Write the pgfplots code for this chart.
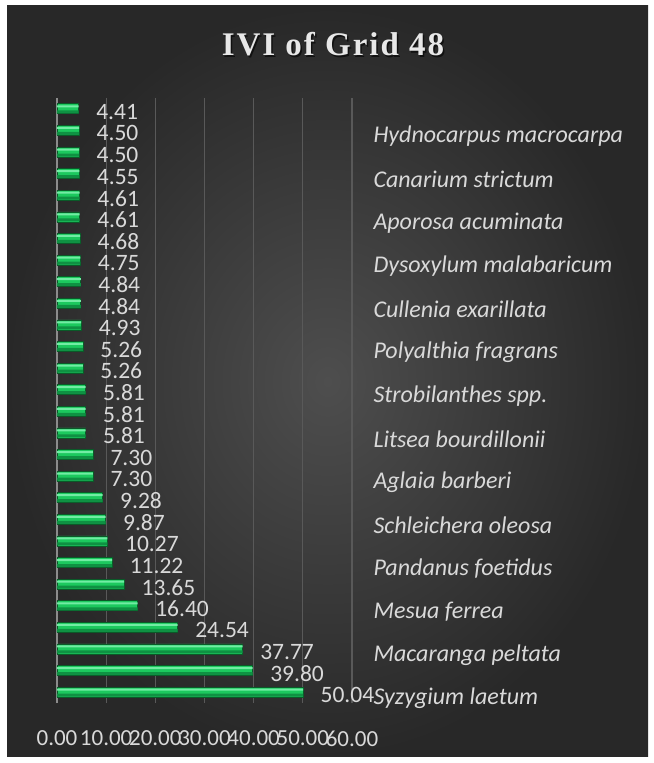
\documentclass[border=0pt]{standalone}
\usepackage{fontspec}
\setmainfont{Carlito}
\newfontfamily\titlefont[LetterSpace=6]{Liberation Serif}
\usepackage{pgfplots}
\pgfplotsset{compat=1.18}
\definecolor{bgin}{HTML}{4E4E4E}
\definecolor{bgout}{HTML}{282828}
\definecolor{txtgray}{HTML}{D9D9D9}
\definecolor{gridgray}{HTML}{595959}
\definecolor{axisgray}{HTML}{8C8C8C}
\definecolor{barHi}{HTML}{72ECA4}
\definecolor{barMid}{HTML}{1CC95E}
\definecolor{barLow}{HTML}{0F9143}
\definecolor{barEdge}{HTML}{0A5A28}

\pgfplotstableread{
pos ivi
1 50.04
2 39.80
3 37.77
4 24.54
5 16.40
6 13.65
7 11.22
8 10.27
9 9.87
10 9.28
11 7.30
12 7.30
13 5.81
14 5.81
15 5.81
16 5.26
17 5.26
18 4.93
19 4.84
20 4.84
21 4.75
22 4.68
23 4.61
24 4.61
25 4.55
26 4.50
27 4.50
28 4.41
}\ivitable

\begin{document}
\begin{tikzpicture}
\path[use as bounding box] (0bp,0bp) rectangle (654bp,763bp);
\fill[white] (0bp,0bp) rectangle (654bp,763bp);
\shade[inner color=bgin, outer color=bgout] (7bp,6bp) rectangle (648bp,757bp);
% title with a soft shadow
\node[anchor=base, text=black, opacity=0.6,
  font=\titlefont\bfseries\fontsize{33bp}{36bp}\selectfont] at (334.5bp,705.5bp) {IVI of Grid 48};
\node[anchor=base, text=txtgray!60!white,
  font=\titlefont\bfseries\fontsize{33bp}{36bp}\selectfont] at (333bp,707bp) {IVI of Grid 48};

\begin{axis}[
  at={(57bp,60bp)}, anchor=south west,
  scale only axis, width=295bp, height=605bp,
  xmin=0, xmax=60, ymin=0.5, ymax=28.5,
  xtick={0,10,...,60},
  ytick={1,3,...,27},
  yticklabels={Syzygium laetum, Macaranga peltata, Mesua ferrea, Pandanus foetidus,
    Schleichera oleosa, Aglaia barberi, Litsea bourdillonii, Strobilanthes spp.,
    Polyalthia fragrans, Cullenia exarillata, Dysoxylum malabaricum,
    Aporosa acuminata, Canarium strictum, Hydnocarpus macrocarpa},
  yticklabel pos=right,
  yticklabel style={anchor=west, xshift=18bp, yshift=-6bp,
    font=\itshape\fontsize{24bp}{27bp}\selectfont, text=txtgray},
  xticklabel style={yshift=-24bp, font=\fontsize{23bp}{26bp}\selectfont, text=txtgray,
    /pgf/number format/.cd, fixed, fixed zerofill, precision=2},
  /pgf/number format/assume math mode=true,
  axis line style={draw=none},
  major tick length=0pt,
  xmajorgrids, grid style={gridgray, line width=1.2bp},
  extra x ticks={0}, extra x tick labels={},
  extra x tick style={grid style={axisgray, line width=1.6bp}},
  clip=false,
]
% main bar body
\addplot[xbar, bar width=10bp, bar shift=0pt, fill=barMid, draw=barEdge, line width=0.6bp,
  point meta=x,
  nodes near coords={\pgfmathprintnumber[fixed, fixed zerofill, precision=2]{\pgfplotspointmeta}},
  nodes near coords style={anchor=west, xshift=14bp, yshift=-3bp,
    font=\fontsize{23.5bp}{26bp}\selectfont, text=txtgray}]
  table[x=ivi, y=pos] {\ivitable};
% lower darker band
\addplot[xbar, bar width=3bp, bar shift=-3bp, fill=barLow, draw=none]
  table[x=ivi, y=pos] {\ivitable};
% upper highlight
\addplot[xbar, bar width=2bp, bar shift=2.5bp, fill=barHi, draw=none]
  table[x=ivi, y=pos] {\ivitable};
\end{axis}
\end{tikzpicture}
\end{document}
